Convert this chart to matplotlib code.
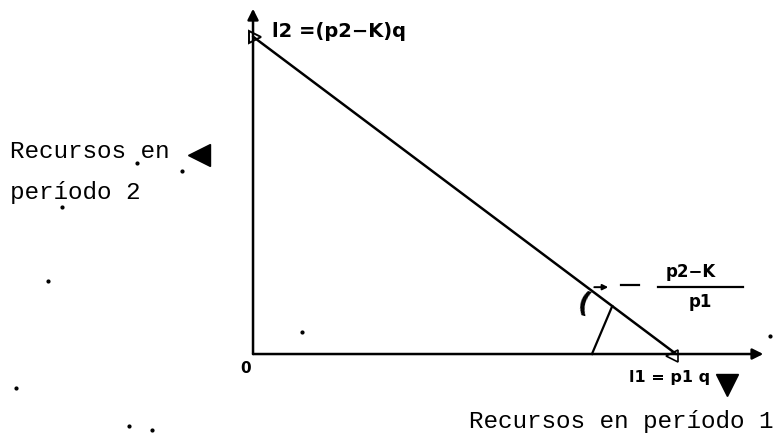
import matplotlib.pyplot as plt

# budget line intercepts (I1 on x, I2 on y), in units of I1
I1 = 1.0
I2 = 0.75
# axis extents
x_axis_end = 1.206
y_axis_end = 0.816
# foot of the angle mark on the x axis
angle_foot = 0.801
angle_top_x = 0.849

label_x = "Recursos en período 1"
label_y_top = "Recursos en"
label_y_bottom = "período 2"
label_I2 = "l2 =(p2−K)q"
label_I1 = "l1 = p1 q"
frac_num = "p2−K"
frac_den = "p1"

# scan specks
speck_x = [-0.452, -0.485, -0.560, -0.292, -0.239, 0.116, 1.222, -0.274, -0.168]
speck_y = [0.348, 0.173, -0.080, -0.170, -0.180, 0.052, 0.043, 0.452, 0.433]

mono = ['Liberation Mono', 'DejaVu Sans Mono']
hand = dict(family='DejaVu Sans', fontweight='bold', color='black')

fig = plt.figure(figsize=(7.76, 4.35), dpi=100)
ax = fig.add_axes([0, 0, 1, 1])
ax.set_xlim(-0.598, 1.236)
ax.set_ylim(-0.189, 0.839)
ax.axis('off')

# axes with arrows
arr = dict(arrowstyle='-|>', color='black', lw=1.8, mutation_scale=16, shrinkA=0, shrinkB=0)
ax.annotate('', xy=(0, y_axis_end), xytext=(0, 0), arrowprops=arr)
ax.annotate('', xy=(x_axis_end, 0), xytext=(0, 0), arrowprops=arr)

# budget line
ax.plot([0, I1], [I2, 0], color='black', lw=1.8, solid_capstyle='round')
ax.plot([0.005], [I2], marker='>', ms=8, mfc='none', mec='black', mew=1.4)
ax.plot([I1 - 0.01], [-0.005], marker='<', ms=8, mfc='none', mec='black', mew=1.2)

# angle mark
top_y = I2 * (1 - angle_top_x / I1)
ax.plot([angle_foot, angle_top_x], [0, top_y], color='black', lw=1.6)
ax.text(0.782, 0.118, '(', fontsize=20, rotation=-15, ha='center', va='center', **hand)

# slope annotation
ax.annotate('', xy=(0.846, 0.158), xytext=(0.800, 0.158),
            arrowprops=dict(arrowstyle='-|>', color='black', lw=1.4, mutation_scale=8))
ax.plot([0.870, 0.913], [0.163, 0.163], color='black', lw=1.6)
ax.plot([0.957, 1.157], [0.158, 0.158], color='black', lw=1.6)
ax.text(1.034, 0.196, frac_num, fontsize=12, ha='center', va='center', **hand)
ax.text(1.057, 0.125, frac_den, fontsize=12, ha='center', va='center', **hand)

# intercept labels
ax.text(0.045, 0.764, label_I2, fontsize=14, ha='left', va='center', **hand)
ax.text(0.985, -0.054, label_I1, fontsize=11.5, ha='center', va='center', **hand)
ax.text(-0.017, -0.031, '0', fontsize=11, ha='center', va='center', **hand)

# axis captions with pointer triangles
ax.text(-0.574, 0.482, label_y_top, family=mono, fontsize=17.5, ha='left', va='center')
ax.text(-0.574, 0.385, label_y_bottom, family=mono, fontsize=17.5, ha='left', va='center')
ax.plot([-0.128], [0.470], marker='<', ms=16, color='black')
ax.text(1.229, -0.156, label_x, family=mono, fontsize=17.5, ha='right', va='center')
ax.plot([1.121], [-0.073], marker='v', ms=16, color='black')

ax.scatter(speck_x, speck_y, s=4, color='black')

fig.savefig('out.png', dpi=100)
